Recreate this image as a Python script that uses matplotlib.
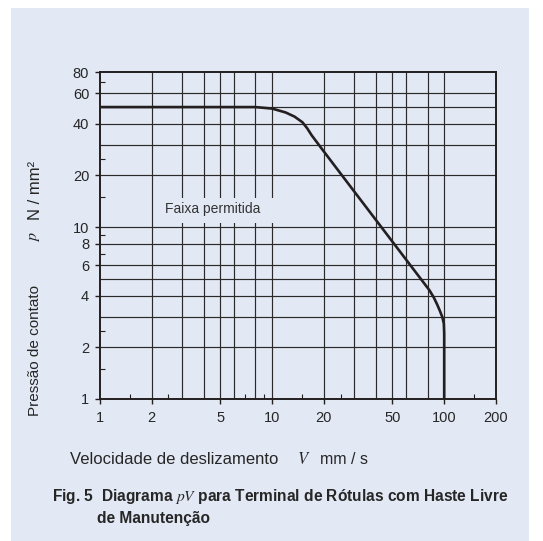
import matplotlib.pyplot as plt
from matplotlib.patches import Rectangle

plt.rcParams['font.family'] = ['Liberation Sans', 'DejaVu Sans']
plt.rcParams['mathtext.fontset'] = 'stix'

# curve (V in mm/s, p in N/mm2)
speed = [1, 5, 8, 10, 12, 13.5, 15, 16, 17, 19.7, 26.5, 50.9, 82, 87, 91, 94.5, 97.5, 99.5, 100, 100]
pressure = [50, 50, 50, 49, 46.5, 44, 40.8, 37.6, 34.2, 28.1, 19.0, 8.05, 4.3, 3.9, 3.55, 3.25, 3.0, 2.75, 2.4, 1.0]

xticks = [1, 2, 5, 10, 20, 50, 100, 200]
yticks = [1, 2, 4, 6, 8, 10, 20, 40, 60, 80]
xgrid = [2, 3, 4, 5, 6, 8, 10, 20, 30, 40, 50, 60, 80, 100]
ygrid = [2, 3, 4, 5, 6, 8, 10, 20, 30, 40, 50, 60]
xminor = [1.5, 2.5, 7, 9, 15, 25, 150]
yminor = [1.5, 2.5, 7, 9, 15, 25, 70]

bg = '#e2e8f4'
ink = '#231f20'
txt = '#262626'

fig = plt.figure(figsize=(5.43, 5.41), dpi=100)
fig.patch.set_facecolor('white')
fig.patches.append(Rectangle((11 / 543, 0), 518 / 543, 533 / 541, transform=fig.transFigure,
                             facecolor=bg, edgecolor='none', zorder=-10))

ax = fig.add_axes([100 / 543, 1 - 399 / 541, 396 / 543, 327 / 541])
ax.set_facecolor(bg)
ax.set_xscale('log')
ax.set_yscale('log')
ax.set_xlim(1, 200)
ax.set_ylim(1, 80)

for v in xgrid:
    ax.axvline(v, color='#2a2a2a', lw=0.85, zorder=1)
for v in ygrid:
    ax.axhline(v, color='#2a2a2a', lw=0.85, zorder=1)

# label box hides the grid behind the text
ax.add_patch(Rectangle((2.23, 10.6), 10.55 - 2.23, 14.8 - 10.6, facecolor=bg, edgecolor='none', zorder=2))
ax.text(2.39, 12.8, 'Faixa permitida', fontsize=10, color='#333333', va='center', ha='left', zorder=3)

ax.plot(speed, pressure, color=ink, lw=1.9, solid_joinstyle='round', zorder=4)

ax.set_xticks(xticks)
ax.set_xticklabels([str(t) for t in xticks])
ax.set_yticks(yticks)
ax.set_yticklabels([str(t) for t in yticks])
ax.set_xticks(xminor, minor=True)
ax.set_yticks(yminor, minor=True)
ax.xaxis.set_minor_formatter(plt.NullFormatter())
ax.yaxis.set_minor_formatter(plt.NullFormatter())
ax.tick_params(which='major', direction='out', length=3.8, width=1, color=ink,
               labelsize=10.5, labelcolor=txt)
ax.tick_params(axis='x', which='major', pad=5)
ax.tick_params(axis='y', which='major', pad=4)
ax.tick_params(which='minor', direction='in', length=3.5, width=0.8, color=ink)

for s in ax.spines.values():
    s.set_linewidth(1.4)
    s.set_color(ink)
    s.set_zorder(5)

# axis titles
fig.text(35 / 543, 1 - 351 / 541, 'Pressão de contato', rotation=90, fontsize=11,
         ha='center', va='center', color=txt)
fig.text(35 / 543, 1 - 237 / 541, '$p$', rotation=90, fontsize=11.5,
         ha='center', va='center', color=txt)
fig.text(35 / 543, 1 - 190 / 541, 'N / mm²', rotation=90, fontsize=12,
         ha='center', va='center', color=txt)

fig.text(70 / 543, 1 - 459 / 541, 'Velocidade de deslizamento', fontsize=12,
         ha='left', va='center', color=txt)
fig.text(304 / 543, 1 - 459 / 541, '$V$', fontsize=12, ha='center', va='center', color=txt)
fig.text(320 / 543, 1 - 459 / 541, 'mm / s', fontsize=11.5, ha='left', va='center', color=txt)

fig.text(52 / 543, 1 - 497 / 541, 'Fig. 5  Diagrama $pV$ para Terminal de Rótulas com Haste Livre',
         fontsize=11.2, fontweight='bold', ha='left', va='center', color=txt)
fig.text(97 / 543, 1 - 519 / 541, 'de Manutenção', fontsize=11.2, fontweight='bold',
         ha='left', va='center', color=txt)

fig.savefig('out.png', dpi=100)
